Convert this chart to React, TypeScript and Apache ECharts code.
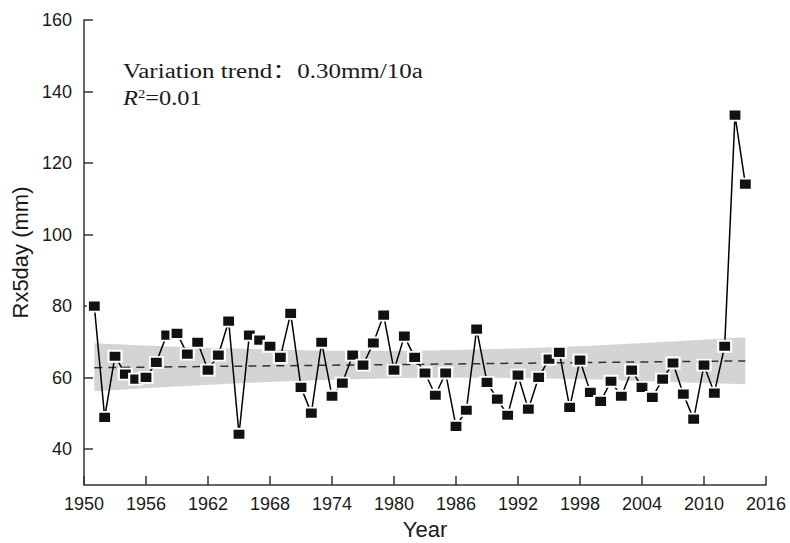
import { useEffect, useRef } from 'react';
import * as echarts from 'echarts';

// Annual Rx5day values (mm), 1951–2014
const firstYear = 1951;
const rx5day = [
  80.0, 48.9, 66.0, 61.0, 59.6, 60.1, 64.3, 71.9, 72.4, 66.6,
  69.9, 62.1, 66.3, 75.8, 44.2, 71.9, 70.5, 68.8, 65.7, 78.0,
  57.3, 50.1, 69.9, 54.8, 58.5, 66.3, 63.5, 69.7, 77.5, 62.1,
  71.6, 65.7, 61.3, 55.1, 61.3, 46.4, 50.9, 73.6, 58.7, 54.0,
  49.5, 60.7, 51.2, 60.1, 65.2, 67.1, 51.7, 64.9, 55.9, 53.4,
  59.0, 54.8, 62.1, 57.3, 54.5, 59.6, 64.1, 55.4, 48.4, 63.5,
  55.7, 68.8, 133.4, 114.1,
];
const years = rx5day.map((_, i) => firstYear + i);

// Linear trend end points
const trendYears = [1951, 2014];
const trendValues = [62.8, 64.7];

// Confidence band (lower / upper) read at several years
const bandYears = [1951, 1958, 1966, 1974, 1982, 1990, 1998, 2006, 2014];
const bandLower = [56.2, 57.4, 58.6, 59.4, 60.0, 60.0, 59.6, 58.9, 58.2];
const bandUpper = [69.6, 68.7, 68.0, 67.5, 67.5, 68.0, 68.8, 70.0, 71.3];

const yTickValues = [40, 60, 80, 100, 120, 140, 160];
const trendLabel = 'Variation trend：0.30mm/10a';
const r2Value = '0.01';

const sans = '"Liberation Sans", Arial, Helvetica, sans-serif';
const serif = '"Liberation Serif", "Times New Roman", "Noto Sans CJK SC", serif';
const axisColor = '#333';
const textColor = '#1a1a1a';

export default function App() {
  const ref = useRef<HTMLDivElement>(null);

  useEffect(() => {
    const chart = echarts.init(ref.current!, null, { renderer: 'svg' });
    chart.setOption({
      animation: false,
      backgroundColor: '#fff',
      grid: { left: 84, right: 24, top: 20, bottom: 58, containLabel: false, outerBoundsMode: 'none' },
      xAxis: {
        type: 'value',
        min: 1950,
        max: 2016,
        interval: 6,
        name: 'Year',
        nameLocation: 'middle',
        nameGap: 33,
        nameTextStyle: { fontSize: 22, color: textColor, fontFamily: sans },
        axisLine: { show: true, onZero: false, lineStyle: { color: axisColor, width: 1.5 } },
        axisTick: { show: true, inside: true, length: 9, lineStyle: { color: axisColor, width: 1.5 } },
        axisLabel: {
          formatter: (v: number) => String(v),
          fontSize: 18,
          color: textColor,
          margin: 10,
          fontFamily: sans,
        },
        splitLine: { show: false },
      },
      yAxis: {
        type: 'value',
        min: 30,
        max: 160,
        name: 'Rx5day (mm)',
        nameLocation: 'middle',
        nameGap: 52,
        nameTextStyle: { fontSize: 22, color: textColor, fontFamily: sans },
        axisLine: { show: true, onZero: false, lineStyle: { color: axisColor, width: 1.5 } },
        axisTick: {
          show: true,
          inside: true,
          length: 9,
          customValues: yTickValues,
          lineStyle: { color: axisColor, width: 1.5 },
        },
        axisLabel: {
          customValues: yTickValues,
          fontSize: 18,
          color: textColor,
          margin: 12,
          fontFamily: sans,
        },
        splitLine: { show: false },
      },
      graphic: [
        {
          type: 'text',
          x: 123,
          y: 61,
          scaleX: 1.25,
          style: { text: trendLabel, font: `20px ${serif}`, fill: textColor, verticalAlign: 'top' },
        },
        {
          type: 'text',
          x: 123,
          y: 88,
          scaleX: 1.22,
          style: {
            text: `{i|R}{s|2}{n|=${r2Value}}`,
            fill: textColor,
            verticalAlign: 'top',
            rich: {
              i: { fontFamily: serif, fontSize: 20, fontStyle: 'italic', color: textColor },
              s: { fontFamily: serif, fontSize: 12, color: textColor, verticalAlign: 'top', padding: [0, 0, 8, 0] },
              n: { fontFamily: serif, fontSize: 20, color: textColor },
            },
          },
        },
      ],
      series: [
        {
          name: 'band',
          type: 'custom',
          data: bandYears.map((y, i) => [y, bandLower[i], bandUpper[i]]),
          encode: { x: 0, y: [1, 2] },
          silent: true,
          z: 1,
          renderItem: (params: any, api: any) => {
            if (params.dataIndex !== 0) return null;
            const upper = bandYears.map((y, i) => api.coord([y, bandUpper[i]]));
            const lower = bandYears.map((y, i) => api.coord([y, bandLower[i]])).reverse();
            return {
              type: 'polygon',
              shape: { points: [...upper, ...lower] },
              style: { fill: '#d4d4d4', stroke: 'none' },
            };
          },
        },
        {
          name: 'trend',
          type: 'line',
          data: trendYears.map((y, i) => [y, trendValues[i]]),
          symbol: 'none',
          lineStyle: { color: '#333', width: 1.5, type: [8, 6] },
          silent: true,
          z: 2,
        },
        {
          name: 'Rx5day',
          type: 'line',
          data: years.map((y, i) => [y, rx5day[i]]),
          symbol: 'rect',
          symbolSize: [13, 11],
          lineStyle: { color: '#000', width: 1.5 },
          itemStyle: { color: '#111', borderColor: '#fff', borderWidth: 2 },
          z: 3,
        },
      ],
    });
    return () => chart.dispose();
  }, []);

  return (
    <div
      ref={ref}
      style={{ position: 'absolute', left: 0, top: 0, width: 790, height: 543 }}
    />
  );
}
